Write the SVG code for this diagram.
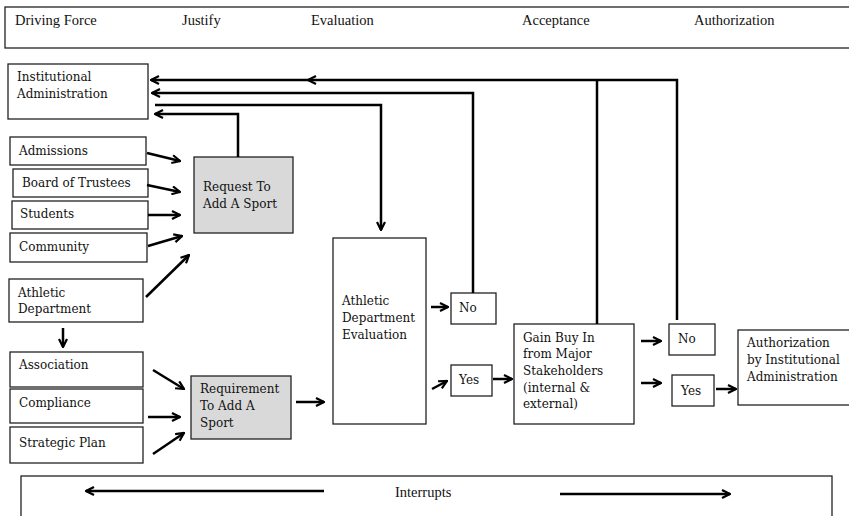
<svg xmlns="http://www.w3.org/2000/svg" width="849" height="516" viewBox="0 0 849 516">
<style>
.box{fill:#fff;stroke:#222;stroke-width:1.3}
.gray{fill:#d9d9d9;stroke:#222;stroke-width:1.3}
.t{font-family:"DejaVu Serif","Liberation Serif",serif;font-size:12px;fill:#111}
.h{font-family:"Liberation Serif",serif;font-size:14.5px;fill:#111}
.c{fill:none;stroke:#000;stroke-width:2.5}
</style>
<defs>
<marker id="a" viewBox="0 0 10 10" refX="9" refY="5" markerWidth="10" markerHeight="10" markerUnits="userSpaceOnUse" orient="auto">
<path d="M1,1 L9,5 L1,9" fill="none" stroke="#000" stroke-width="2.2"/>
</marker>
</defs>
<g id="header">
<rect class="box" x="5" y="7" width="860" height="41"/>
<text class="h" x="15" y="25">Driving Force</text>
<text class="h" x="182" y="25">Justify</text>
<text class="h" x="311" y="25">Evaluation</text>
<text class="h" x="522" y="25">Acceptance</text>
<text class="h" x="694" y="25">Authorization</text>
</g>
<g id="inst"><rect class="box" x="8" y="64" width="140" height="55"/><text class="t" x="17" y="81">Institutional</text><text class="t" x="17" y="98">Administration</text></g>
<g id="admissions"><rect class="box" x="10" y="137" width="136" height="28"/><text class="t" x="19" y="155">Admissions</text></g>
<g id="board"><rect class="box" x="13" y="169" width="135" height="28"/><text class="t" x="22" y="187">Board of Trustees</text></g>
<g id="students"><rect class="box" x="12" y="201" width="136" height="28"/><text class="t" x="20" y="218">Students</text></g>
<g id="community"><rect class="box" x="10" y="233" width="137" height="29"/><text class="t" x="19" y="251">Community</text></g>
<g id="request"><rect class="gray" x="194" y="157" width="99" height="76"/><text class="t" x="203" y="191">Request To</text><text class="t" x="203" y="208">Add A Sport</text></g>
<g id="athletic"><rect class="box" x="9" y="279" width="134" height="43"/><text class="t" x="18" y="297">Athletic</text><text class="t" x="18" y="313">Department</text></g>
<g id="association"><rect class="box" x="10" y="352" width="133" height="35"/><text class="t" x="19" y="369">Association</text></g>
<g id="compliance"><rect class="box" x="10" y="389" width="133" height="34"/><text class="t" x="19" y="407">Compliance</text></g>
<g id="strategic"><rect class="box" x="10" y="427" width="133" height="36"/><text class="t" x="19" y="447">Strategic Plan</text></g>
<g id="requirement"><rect class="gray" x="191" y="376" width="100" height="63"/><text class="t" x="200" y="393">Requirement</text><text class="t" x="200" y="410">To Add A</text><text class="t" x="200" y="427">Sport</text></g>
<g id="eval"><rect class="box" x="333" y="238" width="93" height="186"/><text class="t" x="342" y="305">Athletic</text><text class="t" x="342" y="322">Department</text><text class="t" x="342" y="339">Evaluation</text></g>
<g id="no1"><rect class="box" x="451" y="293" width="45" height="31"/><text class="t" x="459" y="312">No</text></g>
<g id="yes1"><rect class="box" x="451" y="365" width="41" height="31"/><text class="t" x="459" y="384">Yes</text></g>
<g id="gain"><rect class="box" x="514" y="324" width="120" height="100"/><text class="t" x="523" y="342">Gain Buy In</text><text class="t" x="523" y="358">from Major</text><text class="t" x="523" y="375">Stakeholders</text><text class="t" x="523" y="392">(internal &amp;</text><text class="t" x="523" y="408">external)</text></g>
<g id="no2"><rect class="box" x="669" y="324" width="46" height="31"/><text class="t" x="678" y="343">No</text></g>
<g id="yes2"><rect class="box" x="672" y="375" width="42" height="31"/><text class="t" x="681" y="395">Yes</text></g>
<g id="auth"><rect class="box" x="738" y="330" width="120" height="75"/><text class="t" x="747" y="347">Authorization</text><text class="t" x="747" y="364">by Institutional</text><text class="t" x="747" y="381">Administration</text></g>
<g id="interrupts"><rect class="box" x="21" y="476" width="811" height="60"/><text class="h" x="395" y="497">Interrupts</text></g>
<g id="connectors">
<path class="c" d="M677,320 V80 H308" marker-end="url(#a)"/>
<path class="c" d="M308,80 H151" marker-end="url(#a)"/>
<path class="c" d="M597,324 V80"/>
<path class="c" d="M473,293 V93 H152" marker-end="url(#a)"/>
<path class="c" d="M155,105 H381 V230" marker-end="url(#a)"/>
<path class="c" d="M238,157 V114 H155" marker-end="url(#a)"/>
<path class="c" d="M147,153 L180,161" marker-end="url(#a)"/>
<path class="c" d="M147,185 L180,192" marker-end="url(#a)"/>
<path class="c" d="M148,215 L180,215" marker-end="url(#a)"/>
<path class="c" d="M148,246 L182,236" marker-end="url(#a)"/>
<path class="c" d="M146,297 L189,255" marker-end="url(#a)"/>
<path class="c" d="M63,328 V347" marker-end="url(#a)"/>
<path class="c" d="M153,370 L184,389" marker-end="url(#a)"/>
<path class="c" d="M148,417 L180,417" marker-end="url(#a)"/>
<path class="c" d="M153,454 L184,433" marker-end="url(#a)"/>
<path class="c" d="M296,402 L324,402" marker-end="url(#a)"/>
<path class="c" d="M431,307 L448,307" marker-end="url(#a)"/>
<path class="c" d="M432,389 L447,381" marker-end="url(#a)"/>
<path class="c" d="M493,379 L512,379" marker-end="url(#a)"/>
<path class="c" d="M641,341 L661,341" marker-end="url(#a)"/>
<path class="c" d="M641,383 L661,383" marker-end="url(#a)"/>
<path class="c" d="M716,389 L736,389" marker-end="url(#a)"/>
<path class="c" d="M324,491 L86,491" marker-end="url(#a)"/>
<path class="c" d="M560,494 L730,494" marker-end="url(#a)"/>
</g>
</svg>
